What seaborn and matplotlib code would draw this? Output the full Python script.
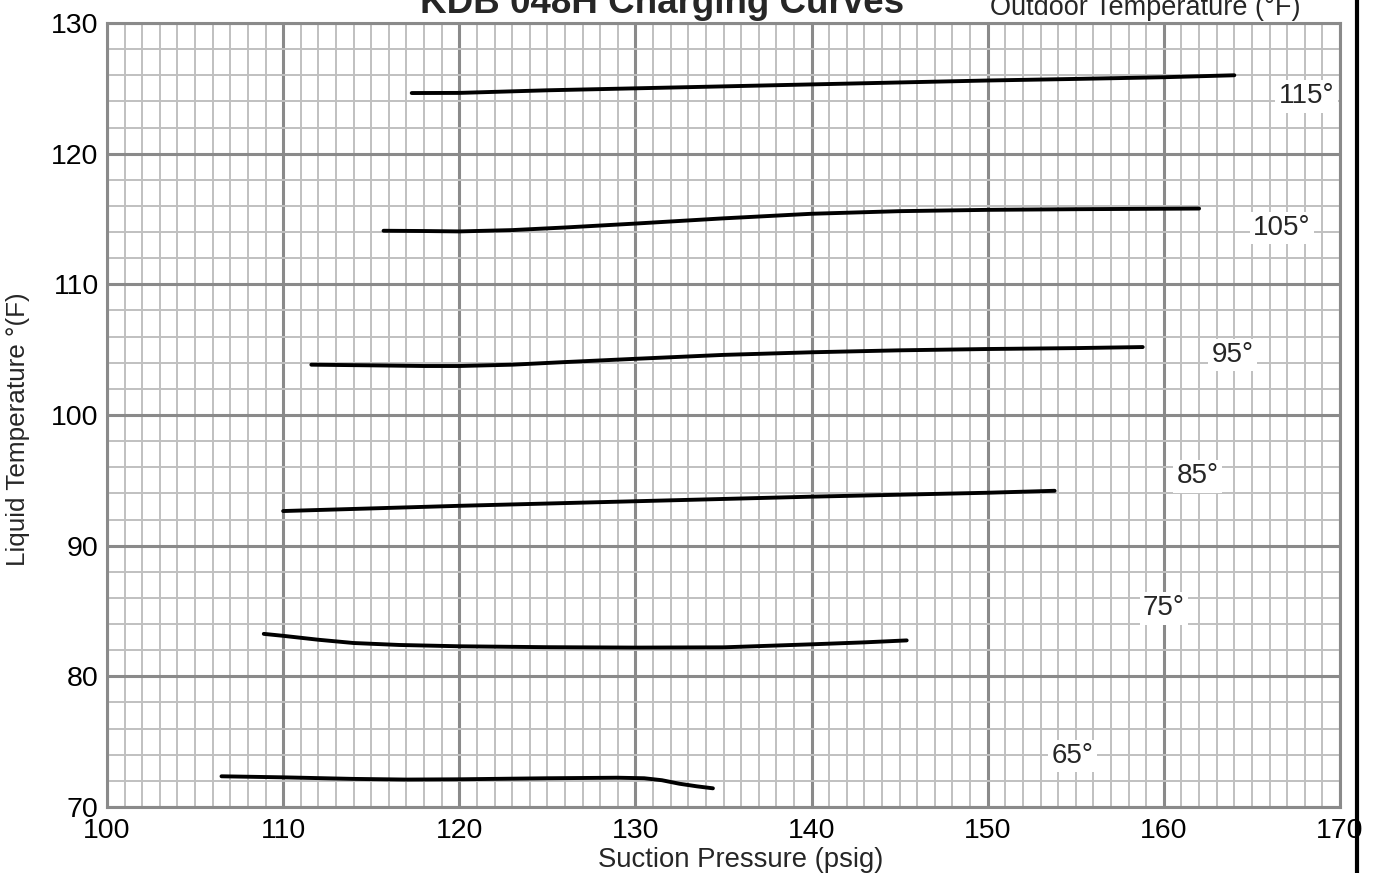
import pandas as pd
import matplotlib
matplotlib.use('agg')
import matplotlib.pyplot as plt
from matplotlib.ticker import MultipleLocator
from matplotlib.lines import Line2D
import seaborn as sns

# outdoor temperature curves: suction pressure (psig) vs liquid temperature (F)
x_65 = [106.5, 110, 114, 117, 120, 125, 129, 130.5, 131.5, 132.5, 133.5, 134.4]
y_65 = [72.35, 72.27, 72.15, 72.1, 72.12, 72.2, 72.24, 72.2, 72.05, 71.78, 71.58, 71.43]

x_75 = [108.9, 110, 112, 114, 116.6, 120, 125, 130, 135, 140, 143, 145.4]
y_75 = [83.25, 83.1, 82.8, 82.55, 82.4, 82.3, 82.23, 82.2, 82.22, 82.45, 82.6, 82.75]

x_85 = [110.0, 120, 130, 140, 150, 153.8]
y_85 = [92.65, 93.05, 93.4, 93.75, 94.05, 94.2]

x_95 = [111.6, 115, 118, 120, 123, 126, 130, 135, 140, 145, 150, 155, 158.8]
y_95 = [103.85, 103.8, 103.75, 103.75, 103.85, 104.05, 104.3, 104.6, 104.8, 104.95, 105.05, 105.12, 105.2]

x_105 = [115.7, 118, 120, 123, 126, 130, 135, 140, 145, 150, 155, 162]
y_105 = [114.1, 114.08, 114.05, 114.15, 114.35, 114.65, 115.05, 115.4, 115.6, 115.7, 115.75, 115.8]

x_115 = [117.3, 120, 125, 130, 135, 140, 145, 150, 155, 160, 164.0]
y_115 = [124.64, 124.65, 124.85, 125.0, 125.15, 125.3, 125.45, 125.6, 125.72, 125.85, 126.0]

curve_names = ['65°', '75°', '85°', '95°', '105°', '115°']
curve_x = [x_65, x_75, x_85, x_95, x_105, x_115]
curve_y = [y_65, y_75, y_85, y_95, y_105, y_115]

# where the temperature tags sit
label_x = [154.8, 160.0, 161.9, 163.9, 166.7, 168.1]
label_y = [73.9, 85.2, 95.3, 104.6, 114.3, 124.4]

rows = []
for name, xs, ys in zip(curve_names, curve_x, curve_y):
    for xv, yv in zip(xs, ys):
        rows.append({'curve': name, 'pressure': xv, 'temp': yv})
df = pd.DataFrame(rows)

sns.set_style('white')
plt.rcParams['font.family'] = ['Liberation Sans', 'DejaVu Sans']

fig = plt.figure(figsize=(13.77, 8.73), dpi=100)
ax = fig.add_axes([107/1377, 1 - 807/873, (1340-107)/1377, (807-23)/873])

sns.lineplot(data=df, x='pressure', y='temp', hue='curve', sort=False, estimator=None,
             palette={n: 'black' for n in curve_names}, linewidth=2.8, legend=False, ax=ax)

ax.set_xlim(100, 170)
ax.set_ylim(70, 130)
ax.xaxis.set_major_locator(MultipleLocator(10))
ax.yaxis.set_major_locator(MultipleLocator(10))
ax.xaxis.set_minor_locator(MultipleLocator(1))
ax.yaxis.set_minor_locator(MultipleLocator(2))
ax.set_axisbelow(True)
ax.grid(which='minor', color='#c0c0c0', linewidth=1.4)
ax.grid(which='major', color='#8a8a8a', linewidth=2.2)
for s in ax.spines.values():
    s.set_color('#8a8a8a')
    s.set_linewidth(2.2)
ax.tick_params(which='both', length=0, labelsize=20.5, colors='black')
ax.tick_params(axis='x', pad=8)
ax.tick_params(axis='y', pad=6)
ax.set_xlabel('')
ax.set_ylabel('')

for name, lx, ly in zip(curve_names, label_x, label_y):
    ax.text(lx, ly, name, ha='center', va='center', fontsize=20,
            bbox=dict(facecolor='white', edgecolor='none', pad=2.5))

fig.text(741/1377, 1 - 860/873, 'Suction Pressure (psig)', ha='center', va='center', fontsize=19.8)
fig.text(18/1377, 1 - 429/873, 'Liquid Temperature °(F)', ha='center', va='center',
         rotation=90, fontsize=18.8)
# title and legend caption sit partly above the top edge, as in the original
fig.text(662/1377, 1 - 13/873, 'KDB 048H Charging Curves', ha='center', va='baseline',
         fontsize=26.5, fontweight='bold')
fig.text(1145/1377, 1 - 15/873, 'Outdoor Temperature (°F)', ha='center', va='baseline',
         fontsize=19.5)

fig.add_artist(Line2D([1357/1377, 1357/1377], [0, 1], color='black', linewidth=3,
                      transform=fig.transFigure))

fig.savefig('out.png', dpi=100)
